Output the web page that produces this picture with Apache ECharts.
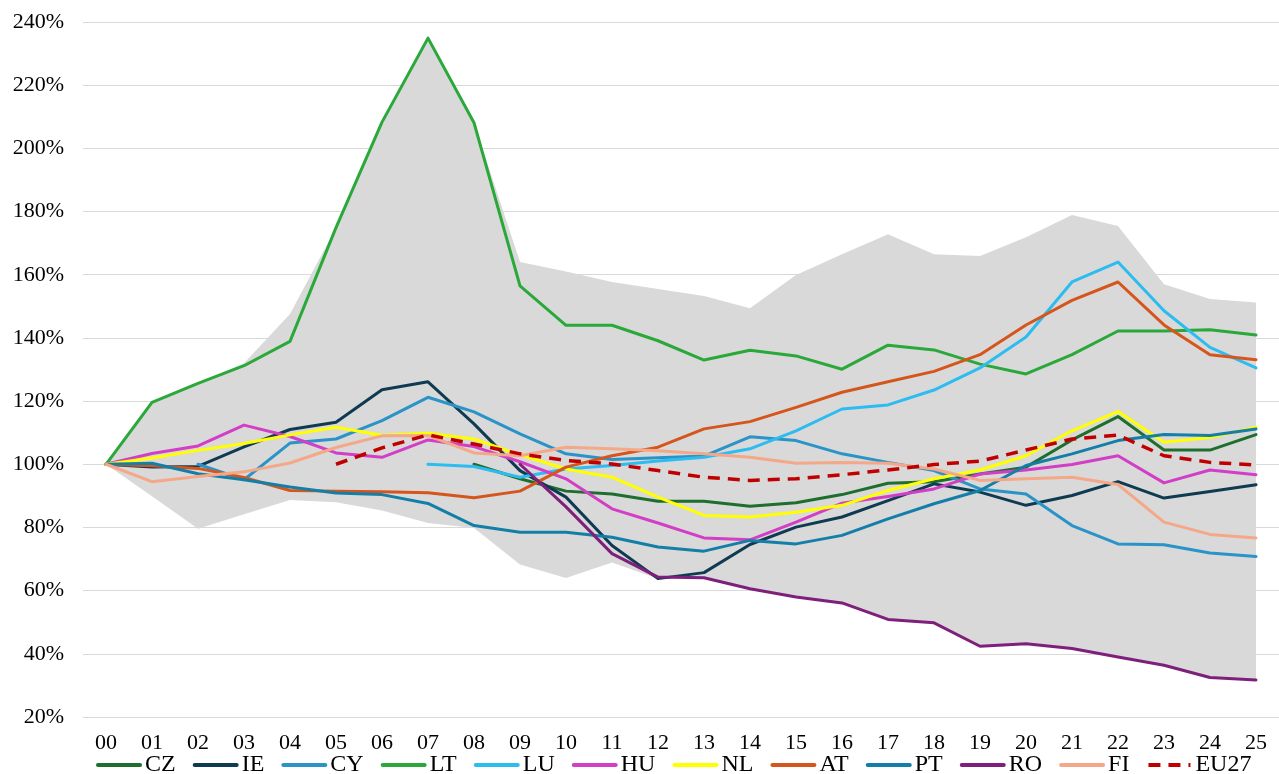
<!DOCTYPE html>
<html>
<head>
<meta charset="utf-8">
<script src="https://cdn.jsdelivr.net/npm/echarts@6/dist/echarts.min.js"></script>
<style>
  html, body { margin: 0; padding: 0; background: #fff; }
  #chart { width: 1279px; height: 774px; }
</style>
</head>
<body>
<div id="chart"></div>
<script>
// 年份（x轴）
const years = ['00', '01', '02', '03', '04', '05', '06', '07', '08', '09', '10', '11', '12',
  '13', '14', '15', '16', '17', '18', '19', '20', '21', '22', '23', '24', '25']

// 各国指数（%），缺失年份为 null
const CZ = [null, null, null, null, null, null, null, null, 100, 95.4, 91.5, 90.6, 88.3, 88.3, 86.7, 87.8, 90.4, 94, 94.5, 96.9, 99.1, 107.7, 115.1, 104.5, 104.5, 109.4]
const IE = [100, 99.1, 99.3, 105.5, 111, 113.3, 123.6, 126.1, 112.8, 98, 89.6, 74.3, 63.8, 65.7, 74.6, 80.1, 83.3, 88.5, 93.8, 91.2, 87, 90.1, 94.5, 89.3, 91.4, 93.5]
const CY = [null, null, 100, 95.1, 106.7, 108, 113.8, 121.2, 116.6, 109.6, 103.3, 101.5, 102.1, 102.6, 108.7, 107.5, 103.3, 100.6, 98, 92.2, 90.6, 80.6, 74.8, 74.5, 71.9, 70.8]
const LT = [100, 119.6, 125.6, 131.2, 138.9, 174.9, 208.3, 234.9, 208.1, 156.5, 144, 144, 139.1, 133, 136.1, 134.3, 130.1, 137.7, 136.2, 131.7, 128.6, 134.7, 142.2, 142.2, 142.6, 140.9]
const LU = [null, null, null, null, null, null, null, 100, 99.3, 95.9, 98.5, 99.6, 101, 102.2, 104.9, 110.6, 117.5, 118.8, 123.5, 130.5, 140.3, 157.7, 164, 148.6, 137, 130.5]
const HU = [100, 103.4, 105.8, 112.4, 108.8, 103.6, 102.2, 107.7, 105.6, 100.8, 95.4, 85.9, 81.4, 76.7, 76.1, 81.7, 87.7, 89.8, 92.2, 96.9, 98.2, 99.9, 102.7, 94.1, 98.2, 96.7]
const NL = [100, 102, 104.4, 106.6, 109.3, 111.7, 109.2, 109.8, 108, 103, 98.5, 95.9, 89.6, 83.8, 83.3, 84.8, 87, 91.7, 95.4, 98.2, 102.7, 110.6, 116.7, 107, 108.5, 111.7]
const AT = [100, 99.5, 98.7, 95.8, 91.7, 91.5, 91.3, 91, 89.4, 91.5, 99.1, 102.7, 105.4, 111.2, 113.5, 118, 122.8, 126.1, 129.4, 134.7, 144.1, 151.9, 157.7, 144.1, 134.7, 133.1]
const PT = [100, 100.3, 97, 95.1, 92.8, 90.9, 90.4, 87.6, 80.6, 78.5, 78.5, 76.9, 73.8, 72.5, 75.9, 74.8, 77.5, 82.7, 87.5, 91.7, 99.6, 103.3, 107.5, 109.4, 109.1, 111.2]
const RO = [null, null, null, null, null, null, null, null, null, 100, 86.5, 71.7, 64.3, 64.1, 60.6, 58, 56.1, 50.9, 49.8, 42.4, 43.2, 41.7, 39, 36.4, 32.5, 31.7]
const FI = [100, 94.5, 96.1, 97.6, 100.4, 105.3, 109, 109.1, 103.6, 102.7, 105.4, 104.9, 104.3, 103.3, 102.2, 100.3, 100.6, 100.3, 98.5, 94.9, 95.4, 95.9, 93.6, 81.7, 77.8, 76.7]
const EU27 = [null, null, null, null, null, 100, 105.2, 109.3, 106.4, 103.3, 101.2, 100.1, 98, 95.9, 94.9, 95.4, 96.7, 98.2, 99.9, 101, 104.5, 108, 109.2, 102.7, 100.6, 99.8]

// 灰色区间（上下界）
const bandHigh = [100, 119.6, 125.6, 132, 147.6, 174.9, 208.3, 234.9, 208.1, 164, 161, 157.7, 155.5, 153.3, 149.4, 159.9, 166.5, 172.8, 166.5, 165.9, 171.9, 178.9, 175.4, 157, 152.3, 151.2]
const bandLow = [100, 89.9, 79.6, 84.2, 88.7, 88, 85.4, 81.4, 79.8, 68.3, 64, 68.9, 63.8, 64.1, 60.6, 58, 56.1, 50.9, 49.8, 42.4, 43.2, 41.7, 39, 36.4, 32.5, 31.7]

// y轴刻度
const yMin = 20
const yMax = 240
const yStep = 20

const countries = [
  { name: 'CZ', data: CZ, color: '#1e6e2d' },
  { name: 'IE', data: IE, color: '#0f3b52' },
  { name: 'CY', data: CY, color: '#2a93c8' },
  { name: 'LT', data: LT, color: '#2aa83a' },
  { name: 'LU', data: LU, color: '#2dbcf0' },
  { name: 'HU', data: HU, color: '#d23ec6' },
  { name: 'NL', data: NL, color: '#ffff00' },
  { name: 'AT', data: AT, color: '#d5561c' },
  { name: 'PT', data: PT, color: '#137fa8' },
  { name: 'RO', data: RO, color: '#7f1f7c' },
  { name: 'FI', data: FI, color: '#f4a888' },
  { name: 'EU27', data: EU27, color: '#c00000', dashed: true },
]

const font = 'Liberation Serif'
const chart = echarts.init(document.getElementById('chart'))

const lineSeries = countries.map(c => ({
  name: c.name,
  type: 'line',
  data: c.data,
  symbol: 'none',
  connectNulls: false,
  z: 3,
  lineStyle: {
    color: c.color,
    width: c.dashed ? 3.5 : 3,
    type: c.dashed ? [12, 8] : 'solid',
    cap: c.dashed ? 'butt' : 'round',
    join: 'round',
  },
  itemStyle: { color: c.color },
}))

const option = {
  animation: false,
  backgroundColor: '#fff',
  grid: { left: 83, right: -8, top: 22, bottom: 57 },
  legend: {
    data: countries.map(c => c.name),
    left: 96,
    top: 753,
    padding: 0,
    itemWidth: 42,
    itemHeight: 2,
    itemGap: 17,
    itemStyle: { opacity: 0 },
    lineStyle: { width: 4 },
    textStyle: { fontFamily: font, fontSize: 24, color: '#000' },
  },
  xAxis: {
    type: 'category',
    data: years,
    boundaryGap: true,
    axisLine: { show: false },
    axisTick: { show: false },
    axisLabel: { fontFamily: font, fontSize: 22, color: '#000', margin: 15 },
  },
  yAxis: {
    type: 'value',
    min: yMin,
    max: yMax,
    interval: yStep,
    axisLine: { show: false },
    axisTick: { show: false },
    splitLine: { lineStyle: { color: '#d9d9d9', width: 1 } },
    axisLabel: {
      fontFamily: font,
      fontSize: 22,
      color: '#000',
      margin: 19,
      formatter: v => v + '%',
    },
  },
  series: [
    {
      name: 'bandBase',
      type: 'line',
      stack: 'band',
      data: bandLow,
      symbol: 'none',
      silent: true,
      z: 1,
      lineStyle: { opacity: 0 },
    },
    {
      name: 'bandRange',
      type: 'line',
      stack: 'band',
      data: bandHigh.map((v, i) => v - bandLow[i]),
      symbol: 'none',
      silent: true,
      z: 1,
      lineStyle: { opacity: 0 },
      areaStyle: { color: '#d9d9d9', opacity: 1 },
    },
    ...lineSeries,
  ],
}

chart.setOption(option)
</script>
</body>
</html>
